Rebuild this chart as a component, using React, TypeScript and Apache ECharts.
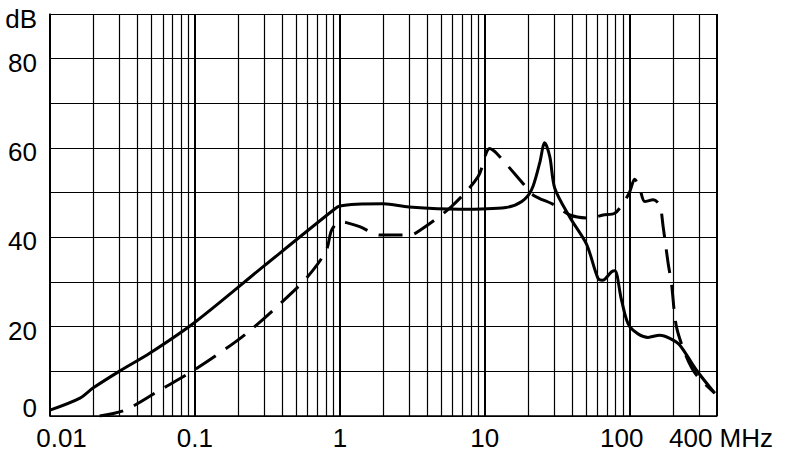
import React, { useEffect, useRef } from "react";
import * as echarts from "echarts";

// Solid curve (frequency in MHz, level in dB)
const solidFreq = [0.01, 0.0161, 0.0199, 0.0304, 0.049, 0.1, 0.3, 0.925, 1.0, 1.3, 2.0, 3.0, 6.7, 14, 18, 21, 23.9, 25.9, 28.1, 30.4, 38.6, 50.3, 60.4, 65, 75, 79, 87.7, 100, 133.7, 161, 189, 221, 288, 386];
const solidDb = [1.3, 4.0, 6.3, 10.1, 14.1, 21, 33.6, 46.4, 47.0, 47.4, 47.5, 46.8, 46.3, 46.7, 48, 50.6, 56.6, 61.2, 58, 51, 44.5, 38.5, 30.8, 30.4, 32.3, 32.5, 26, 20, 17.6, 18.1, 17.4, 15.9, 10.3, 5.1];

// Dashed curve
const dashFreq = [0.022, 0.0329, 0.0574, 0.1, 0.227, 0.5, 0.655, 0.809, 0.877, 1.0, 1.11, 1.37, 1.89, 3.04, 3.66, 5.89, 8.99, 10.8, 12, 18.4, 21.5, 30.4, 38.6, 53, 65.5, 78.8, 90, 100, 108, 117, 127, 145, 161, 170, 184, 194, 210, 246, 288, 386];
const dashDb = [0, 1.3, 5.8, 10.4, 18.5, 28.5, 32.7, 37.2, 41.6, 43.5, 43.3, 42.4, 40.5, 40.5, 41.8, 46.9, 53.6, 59.9, 58.9, 52, 49.5, 47.2, 45, 44.3, 45, 45.4, 47.6, 50.2, 53, 51, 48, 48.4, 47.2, 42.4, 34.2, 29.7, 20, 13.3, 9.2, 5.1];

// Axis ticks / labels
const xMin = 0.01;
const xMax = 400;
const xTickValues = [0.01, 0.1, 1, 10, 100, 400];
const xTickLabels = ["0.01", "0.1", "1", "10", "100", "400 MHz"];
const yTickValues = [0, 20, 40, 60, 80, 90];
const yTickLabels = ["0", "20", "40", "60", "80", "dB"];
const minorMultipliers = [2, 3, 4, 5, 6, 7, 8, 9];
const decadeStarts = [0.01, 0.1, 1, 10, 100];

const FONT = "'Liberation Sans', Arial, Helvetica, sans-serif";

export default function App() {
  const ref = useRef<HTMLDivElement>(null);

  useEffect(() => {
    if (!ref.current) return;
    const chart = echarts.init(ref.current, undefined, { renderer: "svg" });

    const minorLines: { xAxis: number }[] = [];
    decadeStarts.forEach((d) => {
      minorMultipliers.forEach((m) => {
        const v = d * m;
        if (v < xMax - 1e-6) minorLines.push({ xAxis: v });
      });
    });

    const labelFor = (values: number[], labels: string[], v: number, log: boolean) => {
      for (let i = 0; i < values.length; i++) {
        const a = log ? Math.log10(values[i]) : values[i];
        const b = log ? Math.log10(v) : v;
        if (Math.abs(a - b) < 0.01) return labels[i];
      }
      return null;
    };

    const base = { fontSize: 26, color: "#000", fontFamily: FONT };

    chart.setOption({
      animation: false,
      backgroundColor: "#fff",
      grid: { left: 50, right: 73, top: 14, bottom: 47, containLabel: false },
      xAxis: {
        type: "log",
        logBase: 10,
        min: xMin,
        max: xMax,
        axisLine: { show: true, lineStyle: { color: "#000", width: 1.5 } },
        axisTick: { show: false },
        splitLine: { show: true, lineStyle: { color: "#000", width: 2 } },
        axisLabel: {
          ...base,
          margin: 9,
          showMinLabel: true,
          showMaxLabel: true,
          formatter: (v: number) => {
            const t = labelFor(xTickValues, xTickLabels, v, true);
            if (t === null) return "";
            if (t === "0.01") return "{a|" + t + "}";
            if (t === "100") return "{c|" + t + "}";
            if (t === "400 MHz") return "{m|" + t + "}";
            return "{n|" + t + "}";
          },
          rich: {
            n: { ...base },
            a: { ...base, padding: [0, 0, 0, 23] },
            c: { ...base, padding: [0, 16, 0, 0] },
            m: { ...base, padding: [0, 0, 0, 8] },
          },
        },
      },
      yAxis: {
        type: "value",
        min: 0,
        max: 90,
        interval: 10,
        axisLine: { show: true, lineStyle: { color: "#000", width: 1.5 } },
        axisTick: { show: false },
        splitLine: { show: true, lineStyle: { color: "#000", width: 1.2 } },
        axisLabel: {
          ...base,
          margin: 13,
          showMinLabel: true,
          showMaxLabel: true,
          formatter: (v: number) => {
            const t = labelFor(yTickValues, yTickLabels, v, false);
            if (t === null) return "";
            if (t === "0") return "{z|" + t + "}";
            if (t === "dB") return "{d|" + t + "}";
            return "{n|" + t + "}";
          },
          rich: {
            n: { ...base, padding: [8, 0, 0, 0] },
            z: { ...base, padding: [0, 0, 16, 0] },
            d: { ...base, padding: [10, 0, 0, 0] },
          },
        },
      },
      series: [
        {
          type: "line",
          data: [],
          z: 1,
          silent: true,
          markLine: {
            silent: true,
            symbol: ["none", "none"],
            label: { show: false },
            lineStyle: { color: "#000", width: 1.2, type: "solid" },
            emphasis: { disabled: true },
            data: minorLines,
          },
        },
        {
          type: "line",
          z: 3,
          smooth: 0.3,
          symbol: "none",
          silent: true,
          clip: true,
          lineStyle: { color: "#000", width: 3 },
          data: solidFreq.map((f, i) => [f, solidDb[i]]),
        },
        {
          type: "line",
          z: 3,
          smooth: 0.3,
          symbol: "none",
          silent: true,
          clip: true,
          lineStyle: { color: "#000", width: 3, type: [24, 12] },
          data: dashFreq.map((f, i) => [f, dashDb[i]]),
        },
      ],
    });

    return () => chart.dispose();
  }, []);

  return (
    <div
      ref={ref}
      style={{ position: "fixed", left: 0, top: 0, width: 790, height: 463, background: "#fff" }}
    />
  );
}
